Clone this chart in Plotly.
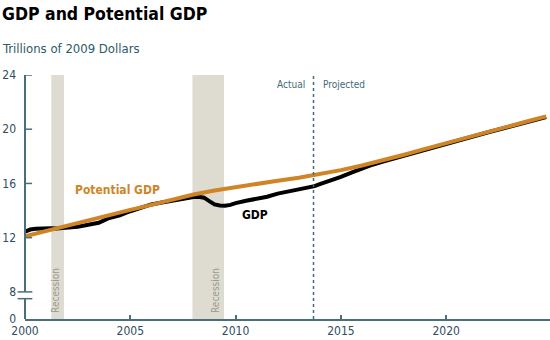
import plotly.graph_objects as go

# Real potential GDP, trillions of 2009 dollars
potential_years = [2000, 2001, 2002, 2003, 2004, 2005, 2006, 2007, 2008, 2009,
                   2010, 2011, 2012, 2013, 2014, 2015, 2016, 2017, 2018, 2019,
                   2020, 2021, 2022, 2023, 2024, 2024.75]
potential_gdp = [12.10, 12.50, 12.90, 13.30, 13.68, 14.05, 14.42, 14.80, 15.18, 15.48,
                 15.74, 15.98, 16.20, 16.42, 16.68, 16.98, 17.32, 17.70, 18.12, 18.55,
                 18.98, 19.42, 19.84, 20.24, 20.64, 20.95]

# Real GDP: actual through 2013, projected afterwards
gdp_years = [2000.0, 2000.25, 2000.5, 2000.75, 2001.0, 2001.25, 2001.5, 2001.75,
             2002.0, 2002.5, 2003.0, 2003.5, 2004.0, 2004.5, 2005.0, 2005.5,
             2006.0, 2006.5, 2007.0, 2007.5, 2008.0, 2008.25, 2008.5, 2008.75,
             2009.0, 2009.25, 2009.5, 2009.75, 2010.0, 2010.5, 2011.0, 2011.25,
             2011.5, 2012.0, 2012.5, 2013.0, 2013.5, 2013.75,
             2014.0, 2014.5, 2015.0, 2015.5, 2016.0, 2016.5, 2017.0, 2018, 2019,
             2020, 2021, 2022, 2023, 2024, 2024.75]
gdp = [12.45, 12.60, 12.65, 12.68, 12.65, 12.70, 12.68, 12.70,
       12.75, 12.80, 12.95, 13.10, 13.45, 13.65, 13.95, 14.20,
       14.45, 14.60, 14.75, 14.90, 15.00, 15.02, 14.95, 14.70,
       14.45, 14.38, 14.36, 14.42, 14.55, 14.72, 14.85, 14.95,
       15.02, 15.25, 15.40, 15.50, 15.65, 15.80,
       15.95, 16.20, 16.48, 16.80, 17.10, 17.38, 17.62, 18.06, 18.49,
       18.92, 19.36, 19.78, 20.18, 20.58, 20.89]

# Recession periods (start, end)
recessions = [(2001.25, 2001.85), (2007.95, 2009.45)]
actual_end = 2013.7

# Axis ticks; the axis is broken below 8, so the bottom position is labelled 0
y_tickvals = [6, 8, 12, 16, 20, 24]
y_ticktext = ["0", "8", "12", "16", "20", "24"]
x_tickvals = [2000, 2005, 2010, 2015, 2020]

AXIS = "#4b6e7d"
TEXT = "#2f4d5c"
ORANGE = "#cf8526"
SHADE = "#dedcd1"
FONT = "DejaVu Sans Condensed"

fig = go.Figure()

fig.add_trace(go.Scatter(x=gdp_years, y=gdp, mode="lines",
                         line=dict(color="#000000", width=4),
                         hoverinfo="skip", showlegend=False))
fig.add_trace(go.Scatter(x=potential_years, y=potential_gdp, mode="lines",
                         line=dict(color=ORANGE, width=4),
                         hoverinfo="skip", showlegend=False))

shapes = []
for x0, x1 in recessions:
    shapes.append(dict(type="rect", xref="x", yref="y", x0=x0, x1=x1, y0=6, y1=24,
                       fillcolor=SHADE, line=dict(width=0), layer="below"))

# Actual / projected divider
shapes.append(dict(type="line", xref="x", yref="y", x0=actual_end, x1=actual_end,
                   y0=6, y1=24, line=dict(color="#3f6d79", width=1.5, dash="dot")))

# Broken y-axis line with break marks
shapes.append(dict(type="line", xref="paper", yref="y", x0=0, x1=0, y0=8, y1=24,
                   line=dict(color=AXIS, width=2)))
shapes.append(dict(type="line", xref="paper", yref="y", x0=0, x1=0, y0=6, y1=7.5,
                   line=dict(color=AXIS, width=2)))
for yb in (8, 7.5):
    shapes.append(dict(type="line", xref="paper", yref="y", x0=-0.014, x1=0.014,
                       y0=yb, y1=yb, line=dict(color=AXIS, width=1.5)))

# Inside tick marks on the y axis
for yt in (12, 16, 20, 24):
    shapes.append(dict(type="line", xref="paper", yref="y", x0=0, x1=0.0135,
                       y0=yt, y1=yt, line=dict(color=AXIS, width=1.5)))

annotations = [
    dict(text="<b>GDP and Potential GDP</b>", xref="paper", yref="paper",
         x=-0.047, y=1.0, xanchor="left", yanchor="bottom", yshift=49, showarrow=False,
         font=dict(family=FONT, size=17.5, color="#000000")),
    dict(text="Trillions of 2009 Dollars", xref="paper", yref="paper",
         x=-0.047, y=1.0, xanchor="left", yanchor="bottom", yshift=17, showarrow=False,
         font=dict(family=FONT, size=13, color="#2c5a68")),
    dict(text="<b>Potential GDP</b>", xref="x", yref="y", x=2004.4, y=15.5,
         showarrow=False, font=dict(family=FONT, size=12, color=ORANGE)),
    dict(text="<b>GDP</b>", xref="x", yref="y", x=2010.9, y=13.7,
         showarrow=False, font=dict(family=FONT, size=12, color="#000000")),
    dict(text="Actual", xref="x", yref="y", x=actual_end, y=23.3, xanchor="right",
         xshift=-7, showarrow=False, font=dict(family=FONT, size=10, color="#3f6a78")),
    dict(text="Projected", xref="x", yref="y", x=actual_end, y=23.3, xanchor="left",
         xshift=7, showarrow=False, font=dict(family=FONT, size=10, color="#3f6a78")),
]
for x0, x1 in recessions:
    annotations.append(dict(text="Recession", xref="x", yref="y", x=x1, y=6.3,
                            xanchor="right", yanchor="bottom", xshift=-1, textangle=-90,
                            showarrow=False,
                            font=dict(family=FONT, size=10, color="#9b9a8c")))

fig.update_layout(
    width=550, height=340,
    margin=dict(l=25, r=0, t=75, b=21),
    paper_bgcolor="white", plot_bgcolor="white",
    shapes=shapes, annotations=annotations,
    xaxis=dict(range=[2000, 2024.93], tickvals=x_tickvals, showgrid=False,
               zeroline=False, showline=True, linecolor=AXIS, linewidth=2,
               ticks="inside", ticklen=4, tickcolor=AXIS, tickwidth=1.5,
               tickfont=dict(family=FONT, size=12, color=TEXT)),
    yaxis=dict(range=[6, 24], tickvals=y_tickvals, ticktext=y_ticktext,
               showgrid=False, zeroline=False, showline=False, ticks="",
               ticklabelstandoff=8,
               tickfont=dict(family=FONT, size=12, color=TEXT)),
)

fig.write_html("out.html")
